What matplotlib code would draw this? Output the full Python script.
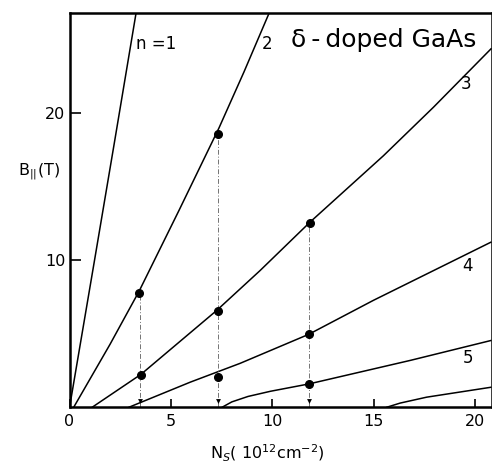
import matplotlib
matplotlib.use('Agg')
import matplotlib.pyplot as plt

# Landau level crossings
n1_x = [0, 1.22, 2.2, 3.28]
n1_y = [0, 9.9, 17.9, 26.8]

n2_x = [0.2, 2.0, 3.43, 5.4, 7.37, 8.6, 9.84]
n2_y = [0, 4.3, 7.9, 13.4, 19.0, 22.8, 26.8]

n3_x = [1.1, 3.52, 7.26, 9.39, 11.86, 15.47, 17.94, 20.8]
n3_y = [0, 2.25, 6.6, 9.3, 12.6, 17.1, 20.4, 24.4]

n4_x = [2.9, 5.95, 8.41, 11.79, 14.98, 20.8]
n4_y = [0, 1.72, 3.0, 4.97, 7.28, 11.25]

n5_x = [7.5, 8.0, 8.8, 9.9, 11.8, 16.8, 20.8]
n5_y = [0, 0.38, 0.75, 1.1, 1.6, 3.2, 4.56]

n6_x = [15.6, 16.3, 17.6, 20.8]
n6_y = [0, 0.3, 0.7, 1.38]

dot_x = [3.43, 3.52, 7.33, 7.31, 7.34, 11.87, 11.79, 11.79]
dot_y = [7.8, 2.22, 18.6, 6.55, 2.06, 12.56, 4.97, 1.61]

drop_x = [3.45, 7.33, 11.8]
drop_top = [7.8, 18.6, 12.56]

xticks = [0, 5, 10, 15, 20]
yticks = [10, 20]

fig = plt.figure(figsize=(4.92, 4.63), dpi=100)
ax = fig.add_axes([0.1413, 0.1199, 0.8577, 0.852])

for cx, cy in [(n1_x, n1_y), (n2_x, n2_y), (n3_x, n3_y),
               (n4_x, n4_y), (n5_x, n5_y), (n6_x, n6_y)]:
    ax.plot(cx, cy, color='black', lw=1.1, solid_capstyle='butt')

for i in range(len(drop_x)):
    ax.plot([drop_x[i], drop_x[i]], [0, drop_top[i]], color='0.45',
            lw=0.7, linestyle=(0, (5, 2, 1, 2)))
    ax.plot(drop_x[i], 0.45, marker='v', color='black', ms=3.5, mew=0)

ax.plot(dot_x, dot_y, 'o', color='black', ms=5.5, zorder=5)

ax.text(3.3, 24.7, 'n =1', fontsize=12, va='center', ha='left')
ax.text(9.75, 24.7, '2', fontsize=12, va='center', ha='center')
ax.text(19.55, 22.0, '3', fontsize=12, va='center', ha='center')
ax.text(19.6, 9.6, '4', fontsize=12, va='center', ha='center')
ax.text(19.66, 3.38, '5', fontsize=12, va='center', ha='center')
ax.text(10.9, 25.0, 'δ\u2009-\u2009doped GaAs', fontsize=18, va='center', ha='left')

ax.set_xlim(0, 20.8)
ax.set_ylim(0, 26.8)
ax.set_xticks(xticks)
ax.set_yticks(yticks)
ax.tick_params(axis='x', direction='in', length=6, width=1.2, pad=5, labelsize=11.5)
ax.tick_params(axis='y', direction='in', length=8, width=1.2, pad=3, labelsize=11.5)
for s in ax.spines.values():
    s.set_linewidth(1.8)

fig.text(267 / 492, 1 - 453 / 463, r'N$_S$( 10$^{12}$cm$^{-2}$)', fontsize=11.5,
         ha='center', va='center')
fig.text(39.5 / 492, 1 - 171.7 / 463, r'B$_{||}$(T)', fontsize=11.5,
         ha='center', va='center')

fig.savefig('out.png', dpi=100)
